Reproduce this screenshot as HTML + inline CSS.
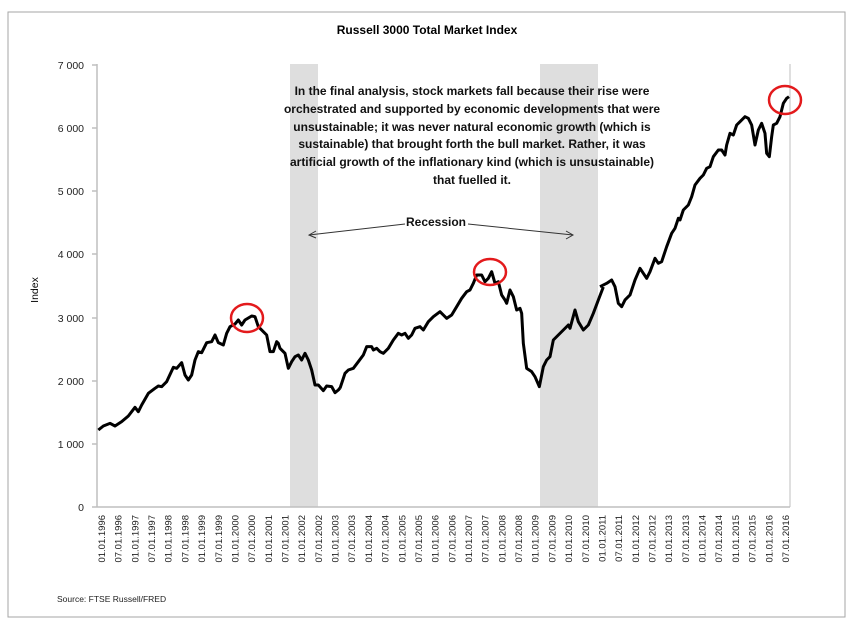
<!DOCTYPE html>
<html><head><meta charset="utf-8"><style>
body{margin:0;background:#fff;}
svg{display:block;font-family:"Liberation Sans",sans-serif;}
</style></head><body>
<svg width="855" height="624" viewBox="0 0 855 624" xmlns="http://www.w3.org/2000/svg">
<rect x="0" y="0" width="855" height="624" fill="#fff"/>
<rect x="8" y="12" width="837" height="605" fill="#fff" stroke="#a6a6a6" stroke-width="1"/>
<text x="427" y="34" text-anchor="middle" font-size="12" font-weight="bold">Russell 3000 Total Market Index</text>
<rect x="290" y="64" width="28" height="443" fill="#dedede"/>
<rect x="540" y="64" width="58" height="443" fill="#dedede"/>
<line x1="97" y1="64" x2="97" y2="507" stroke="#bfbfbf" stroke-width="1.5"/>
<line x1="97" y1="507" x2="790" y2="507" stroke="#bfbfbf" stroke-width="1.5"/>
<line x1="790" y1="64" x2="790" y2="507" stroke="#bfbfbf" stroke-width="1"/>
<g stroke="#bfbfbf" stroke-width="1.5">
<line x1="92" y1="65" x2="97" y2="65"/><line x1="92" y1="128" x2="97" y2="128"/><line x1="92" y1="191" x2="97" y2="191"/><line x1="92" y1="254" x2="97" y2="254"/><line x1="92" y1="318" x2="97" y2="318"/><line x1="92" y1="381" x2="97" y2="381"/><line x1="92" y1="444" x2="97" y2="444"/><line x1="92" y1="507" x2="97" y2="507"/>
</g>
<g font-size="10.5" text-anchor="end" fill="#222">
<text x="84" y="69">7 000</text><text x="84" y="132">6 000</text><text x="84" y="195">5 000</text><text x="84" y="258">4 000</text><text x="84" y="322">3 000</text><text x="84" y="385">2 000</text><text x="84" y="448">1 000</text><text x="84" y="511">0</text>
</g>
<text transform="translate(38,290) rotate(-90)" text-anchor="middle" font-size="10.5">Index</text>
<g font-size="9.5" fill="#222" text-anchor="end">
<text transform="translate(105,515) rotate(-90)">01.01.1996</text>
<text transform="translate(121.7,515) rotate(-90)">07.01.1996</text>
<text transform="translate(138.4,515) rotate(-90)">01.01.1997</text>
<text transform="translate(155,515) rotate(-90)">07.01.1997</text>
<text transform="translate(171.7,515) rotate(-90)">01.01.1998</text>
<text transform="translate(188.4,515) rotate(-90)">07.01.1998</text>
<text transform="translate(205.1,515) rotate(-90)">01.01.1999</text>
<text transform="translate(221.8,515) rotate(-90)">07.01.1999</text>
<text transform="translate(238.4,515) rotate(-90)">01.01.2000</text>
<text transform="translate(255.1,515) rotate(-90)">07.01.2000</text>
<text transform="translate(271.8,515) rotate(-90)">01.01.2001</text>
<text transform="translate(288.5,515) rotate(-90)">07.01.2001</text>
<text transform="translate(305.2,515) rotate(-90)">01.01.2002</text>
<text transform="translate(321.9,515) rotate(-90)">07.01.2002</text>
<text transform="translate(338.5,515) rotate(-90)">01.01.2003</text>
<text transform="translate(355.2,515) rotate(-90)">07.01.2003</text>
<text transform="translate(371.9,515) rotate(-90)">01.01.2004</text>
<text transform="translate(388.6,515) rotate(-90)">07.01.2004</text>
<text transform="translate(405.3,515) rotate(-90)">01.01.2005</text>
<text transform="translate(421.9,515) rotate(-90)">07.01.2005</text>
<text transform="translate(438.6,515) rotate(-90)">01.01.2006</text>
<text transform="translate(455.3,515) rotate(-90)">07.01.2006</text>
<text transform="translate(472,515) rotate(-90)">01.01.2007</text>
<text transform="translate(488.7,515) rotate(-90)">07.01.2007</text>
<text transform="translate(505.3,515) rotate(-90)">01.01.2008</text>
<text transform="translate(522,515) rotate(-90)">07.01.2008</text>
<text transform="translate(538.7,515) rotate(-90)">01.01.2009</text>
<text transform="translate(555.4,515) rotate(-90)">07.01.2009</text>
<text transform="translate(572.1,515) rotate(-90)">01.01.2010</text>
<text transform="translate(588.8,515) rotate(-90)">07.01.2010</text>
<text transform="translate(605.4,515) rotate(-90)">01.01.2011</text>
<text transform="translate(622.1,515) rotate(-90)">07.01.2011</text>
<text transform="translate(638.8,515) rotate(-90)">01.01.2012</text>
<text transform="translate(655.5,515) rotate(-90)">07.01.2012</text>
<text transform="translate(672.2,515) rotate(-90)">01.01.2013</text>
<text transform="translate(688.8,515) rotate(-90)">07.01.2013</text>
<text transform="translate(705.5,515) rotate(-90)">01.01.2014</text>
<text transform="translate(722.2,515) rotate(-90)">07.01.2014</text>
<text transform="translate(738.9,515) rotate(-90)">01.01.2015</text>
<text transform="translate(755.6,515) rotate(-90)">07.01.2015</text>
<text transform="translate(772.3,515) rotate(-90)">01.01.2016</text>
<text transform="translate(789,515) rotate(-90)">07.01.2016</text>
</g>
<text x="57" y="602" font-size="8.5" fill="#222">Source: FTSE Russell/FRED</text>
<g fill="none" stroke="#000" stroke-width="3" stroke-linejoin="round">
<g transform="translate(95,290) scale(0.33333)">
<polyline vector-effect="non-scaling-stroke" points="10,420 25,408 45,400 60,408 80,395 100,378 120,352 130,365 140,345 160,310 180,295 190,288 200,290 215,275 235,232 245,235 260,218 270,255 280,270 290,255 300,210 310,185 320,188 335,158 350,155 360,135 370,158 385,165 395,130 405,110 420,102 430,90 440,105 450,90 470,78 480,80 490,110 505,125 515,135 525,185 535,185 545,155 550,160 555,175 570,190 580,235 590,215 600,200 610,195 620,210 630,190 640,210 650,240 660,285 670,285 685,302 695,288 710,290 720,308 730,300 735,294"/>
</g>
<g transform="translate(340,250) scale(0.33333)">
<polyline vector-effect="non-scaling-stroke" points="0,415 15,370 25,360 40,355 55,335 70,315 80,290 95,290 100,300 110,295 120,305 130,310 145,295 160,270 175,250 185,255 195,250 205,265 215,255 225,235 240,230 250,240 265,215 280,200 300,185 310,195 320,205 335,195 350,170 365,145 380,125 390,120 400,100 410,75 425,75 435,95 445,85 455,65 465,100 475,95 485,135 495,150 500,160 510,120 520,140 530,180 540,175 545,190 550,280 560,355 575,365 585,380 598,410 610,350 620,330 630,320 640,270 655,255 670,240 685,225 690,235 705,180 715,215 730,240 745,225 760,190 775,150 790,111"/>
</g>
<g transform="translate(600,90) scale(0.33333)">
<polyline vector-effect="non-scaling-stroke" points="0,590 20,580 35,570 45,590 55,640 65,650 75,630 90,615 105,570 120,535 130,550 140,565 150,545 165,505 175,520 185,515 200,470 215,430 225,415 235,385 240,390 250,360 265,345 275,320 285,285 300,265 310,255 320,235 330,230 340,200 355,180 365,180 375,195 380,165 390,130 400,135 410,105 420,95 435,80 445,85 455,105 465,165 475,120 485,100 495,130 500,190 508,200 515,140 520,105 530,100 540,80 550,40 560,25 567,20"/>
</g>
</g>
<g fill="none" stroke="#e31a1c" stroke-width="2.5">
<ellipse cx="247" cy="318" rx="16" ry="14"/>
<ellipse cx="490" cy="272" rx="16" ry="13"/>
<ellipse cx="785" cy="100" rx="16" ry="14"/>
</g>
<g font-size="12" font-weight="bold" text-anchor="middle" fill="#111">
<text x="472" y="95">In the final analysis, stock markets fall because their rise were</text>
<text x="472" y="113">orchestrated and supported by economic developments that were</text>
<text x="472" y="131">unsustainable; it was never natural economic growth (which is</text>
<text x="472" y="148">sustainable) that brought forth the bull market. Rather, it was</text>
<text x="472" y="166">artificial growth of the inflationary kind (which is unsustainable)</text>
<text x="472" y="184">that fuelled it.</text>
<text x="436" y="226">Recession</text>
</g>
<g stroke="#333" stroke-width="1" fill="none">
<line x1="405" y1="224" x2="309" y2="235"/>
<polyline points="316,231 309,235 316,238"/>
<line x1="468" y1="224" x2="573" y2="235"/>
<polyline points="566,231 573,235 566,239"/>
</g>
</svg>
</body></html>
